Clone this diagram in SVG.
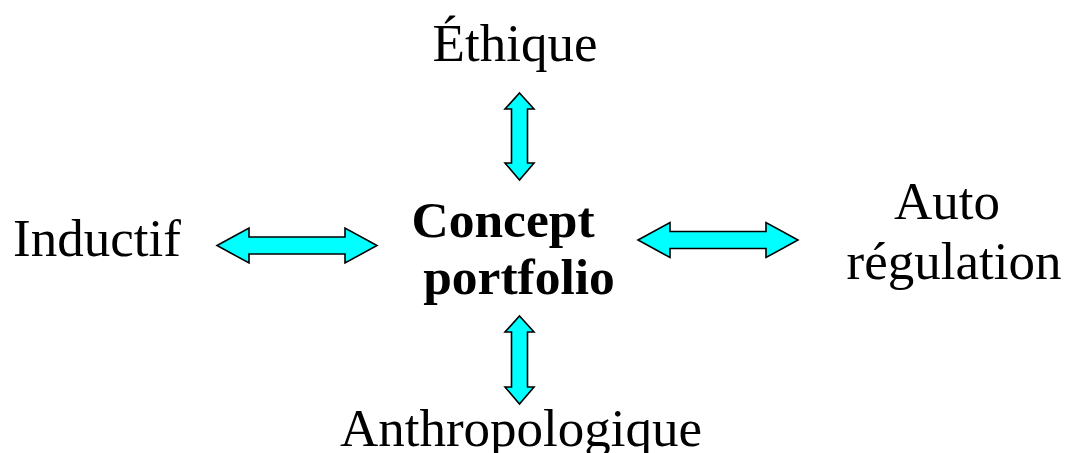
<svg xmlns="http://www.w3.org/2000/svg" width="1066" height="453" viewBox="0 0 1066 453">
<style>
.t{font-family:"Liberation Serif","Times New Roman",serif;font-size:53px;fill:#000;text-anchor:middle}
.b{font-weight:bold;font-size:51.5px}
.a{fill:#00FFFF;stroke:#000;stroke-width:1.6;stroke-linejoin:miter}
</style>
<rect width="1066" height="453" fill="#fff"/>
<g id="connectors">
<polygon class="a" points="519.5,93 534,109 527.5,109 527.5,163 534,163 519.5,180 505,163 511.5,163 511.5,109 505,109"/>
<polygon class="a" points="519.5,316 534,332 527.5,332 527.5,387 534,387 519.5,404 505,387 511.5,387 511.5,332 505,332"/>
<polygon class="a" points="217,245.5 249,228 249,237 345,237 345,228 377,245.5 345,263 345,254 249,254 249,263"/>
<polygon class="a" points="638,240 670,222.5 670,231.5 766,231.5 766,222.5 798,240 766,257.5 766,248.5 670,248.5 670,257.5"/>
</g>
<g id="center"><text class="t b" x="503" y="237">Concept</text><text class="t b" x="519" y="294">portfolio</text></g>
<g id="ethique"><text class="t" x="515" y="61">Éthique</text></g>
<g id="inductif"><text class="t" x="97" y="256">Inductif</text></g>
<g id="auto"><text class="t" x="947" y="219">Auto</text><text class="t" x="954" y="279">régulation</text></g>
<g id="anthropologique"><text class="t" x="521" y="446">Anthropologique</text></g>
</svg>
